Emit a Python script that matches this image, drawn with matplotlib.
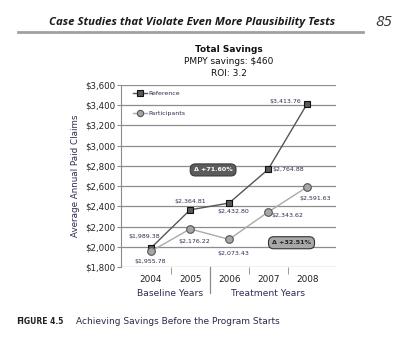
import matplotlib.pyplot as plt
import numpy as np

years = ['2004', '2005', '2006', '2007', '2008']
reference = [1989.38, 2364.81, 2432.80, 2764.88, 3413.76]
participants = [1955.78, 2176.22, 2073.43, 2343.62, 2591.63]
yticks = [1800, 2000, 2200, 2400, 2600, 2800, 3000, 3200, 3400, 3600]

W, H = 410, 344
fig = plt.figure(figsize=(W / 100, H / 100), dpi=100)
fig.patch.set_facecolor('white')

# axes placed in pixel terms
L, R, T, B = 121, 336, 85, 267
ax = fig.add_axes([L / W, 1 - B / H, (R - L) / W, (B - T) / H])

x = np.arange(len(years))
navy = '#2b2d4f'
ax.plot(x, reference, color='#555555', lw=1.0, marker='s', ms=4.5,
        mfc='#5a5a5a', mec='#111111', mew=0.8, label='Reference', zorder=4)
ax.plot(x, participants, color='#aaaaaa', lw=1.0, marker='o', ms=5.5,
        mfc='#a6a6a6', mec='#555555', mew=0.8, label='Participants', zorder=4)

ax.set_xlim(-0.77, 4.74)
ax.set_ylim(1800, 3600)
ax.set_yticks(yticks)
ax.set_yticklabels(['${:,}'.format(v) for v in yticks], fontsize=6.2, color='#222222')
ax.yaxis.grid(True, color='#8c8c8c', lw=0.9)
ax.set_axisbelow(True)
for s in ['top', 'right', 'bottom']:
    ax.spines[s].set_visible(False)
ax.spines['left'].set_color('#8c8c8c')
ax.tick_params(axis='y', length=3, color='#8c8c8c', pad=1)

ax.set_xticks(x)
ax.set_xticklabels(years, fontsize=6.4, color='#222222')
ax.set_xticks([0.5, 2.5, 3.5], minor=True)
ax.tick_params(axis='x', which='major', length=0, pad=6)
ax.tick_params(axis='x', which='minor', length=5, color='#8c8c8c')
# long separator between baseline and treatment years
ax.plot([1.5, 1.5], [1800, 1545], color='#8c8c8c', lw=0.9, clip_on=False)
ax.text(0.5, 1535, 'Baseline Years', ha='center', va='center', fontsize=6.6, color=navy)
ax.text(3, 1535, 'Treatment Years', ha='center', va='center', fontsize=6.6, color=navy)

ax.set_ylabel('Average Annual Paid Claims', fontsize=6.3, color=navy, labelpad=4)

# data labels
lab = dict(fontsize=4.5, color=navy, va='center')
ax.text(-0.18, 2100, '$1,989.38', ha='center', **lab)
ax.text(-0.02, 1850, '$1,955.78', ha='center', **lab)
ax.text(1.0, 2445, '$2,364.81', ha='center', **lab)
ax.text(1.1, 2055, '$2,176.22', ha='center', **lab)
ax.text(2.1, 2345, '$2,432.80', ha='center', **lab)
ax.text(2.1, 1930, '$2,073.43', ha='center', **lab)
ax.text(3.12, 2764.88, '$2,764.88', ha='left', **lab)
ax.text(3.08, 2310, '$2,343.62', ha='left', **lab)
ax.text(3.85, 3440, '$3,413.76', ha='right', **lab)
ax.text(4.2, 2480, '$2,591.63', ha='center', **lab)

# change boxes
ax.text(1.59, 2760, 'Δ +71.60%', ha='center', va='center', fontsize=4.6,
        color='white', fontweight='bold',
        bbox=dict(boxstyle='round,pad=0.55,rounding_size=0.8', fc='#5c5c5c', ec='#3a3a3a', lw=0.8))
ax.text(3.6, 2040, 'Δ +32.51%', ha='center', va='center', fontsize=4.6,
        color='#222222', fontweight='bold',
        bbox=dict(boxstyle='round,pad=0.55,rounding_size=0.8', fc='#a8a8a8', ec='#333333', lw=0.8))

leg = ax.legend(loc='upper left', frameon=False, fontsize=4.5, handlelength=2.3,
                handletextpad=0.2, labelspacing=2.3, bbox_to_anchor=(0.03, 1.0),
                labelcolor=navy)
for h in leg.legend_handles:
    h.set_markersize(4.5)

# chart titles
cx = (L + R) / 2 / W
fig.text(cx, 1 - 50 / H, 'Total Savings', ha='center', va='center', fontsize=6.5,
         fontweight='bold', color='#111111')
fig.text(cx, 1 - 62 / H, 'PMPY savings: $460', ha='center', va='center', fontsize=6.5,
         color='#111111')
fig.text(cx, 1 - 73 / H, 'ROI: 3.2', ha='center', va='center', fontsize=6.5,
         color='#111111')

# page header
fig.text(335 / W, 1 - 22 / H, 'Case Studies that Violate Even More Plausibility Tests',
         ha='right', va='center', fontsize=8.2, fontweight='bold', style='italic',
         family='Open Sans', color='#1a1a1a')
fig.text(392 / W, 1 - 22 / H, '85', ha='right', va='center', fontsize=11,
         style='italic', family='Open Sans', color='#333333')
fig.add_artist(plt.Line2D([18 / W, 363 / W], [1 - 32 / H, 1 - 32 / H],
                          color='#a0a0a0', lw=2))

# caption
fig.text(16 / W, 1 - 324 / H, 'F', ha='left', va='baseline', fontsize=6.5,
         fontweight='bold', color='#222222')
fig.text(21 / W, 1 - 324 / H, 'IGURE 4.5', ha='left', va='baseline', fontsize=5.5,
         fontweight='bold', color='#222222')
fig.text(76 / W, 1 - 324 / H, 'Achieving Savings Before the Program Starts', ha='left',
         va='baseline', fontsize=6.5, color='#2a2a4a')

fig.savefig('out.png', dpi=100)
